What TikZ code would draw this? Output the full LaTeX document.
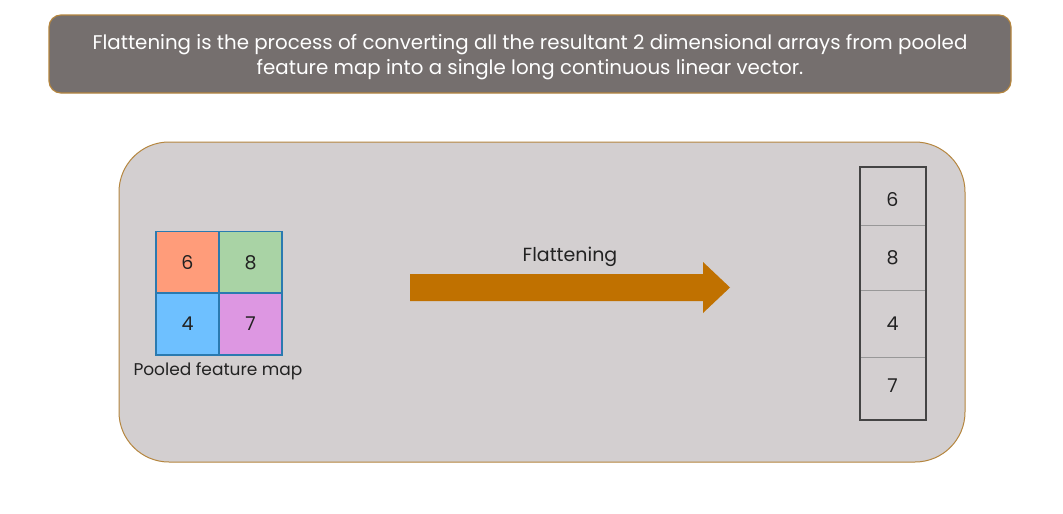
\documentclass[tikz,border=0pt]{standalone}
\usepackage{fontspec}
\setmainfont{Poppins}
\usetikzlibrary{positioning}
\definecolor{boxgray}{HTML}{756F6E}
\definecolor{panel}{HTML}{D3CFD0}
\definecolor{goldline}{HTML}{B5863F}
\definecolor{arrowc}{HTML}{C07100}
\definecolor{cOrange}{HTML}{FF9C7A}
\definecolor{cGreen}{HTML}{A9D3A5}
\definecolor{cBlue}{HTML}{6EC0FF}
\definecolor{cPink}{HTML}{DD97E2}
\definecolor{gridline}{HTML}{2A7AB0}
\definecolor{vecline}{HTML}{444444}
\definecolor{txt}{HTML}{222222}
\tikzset{
  cell/.style={draw=gridline, line width=1.6pt, minimum width=63pt, minimum height=62pt, inner sep=0pt, font=\fontsize{19}{20}\selectfont, text=txt},
  vcell/.style={draw=vecline!55, line width=1pt, minimum width=65pt, inner sep=0pt, font=\fontsize{19}{20}\selectfont, text=txt},
  lbl/.style={font=\fontsize{17}{20}\selectfont, text=txt}
}
\begin{document}
\begin{tikzpicture}[x=1pt,y=-1pt]
\useasboundingbox (0,0) rectangle (1063,514);
\fill[white] (0,0) rectangle (1063,514);
% header
\node[draw=goldline, line width=1.2pt, fill=boxgray, rounded corners=12pt,
      minimum width=962pt, minimum height=78pt, text=white, align=center,
      font=\fontsize{19.8}{25.5}\selectfont] (header) at (530,54) {};
\node[text=white, align=center, font=\fontsize{19.8}{25.5}\selectfont] (htext) at (530,57)
  {Flattening is the process of converting all the resultant 2 dimensional arrays from pooled\\feature map into a single long continuous linear vector.};
% panel
\node[draw=goldline, line width=1pt, fill=panel, rounded corners=50pt,
      minimum width=846pt, minimum height=320pt] (panel) at (542,302) {};
% grid
\node[cell, fill=cOrange] (g6) at (187.5,262.5) {6};
\node[cell, fill=cGreen]  (g8) at (250.5,262.5) {8};
\node[cell, fill=cBlue]   (g4) at (187.5,324) {4};
\node[cell, fill=cPink]   (g7) at (250.5,324) {7};
\node[lbl, anchor=north] (glabel) at (218,359) {Pooled feature map};
% vector
\node[vcell, minimum height=58pt] (v6) at (892.5,196) {\raisebox{-4pt}[\height][\depth]{6}};
\node[vcell, minimum height=65pt] (v8) at (892.5,257.5) {8};
\node[vcell, minimum height=67pt] (v4) at (892.5,323.5) {4};
\node[vcell, minimum height=62pt] (v7) at (892.5,388) {\raisebox{2pt}[\height][\depth]{7}};
\draw[vecline, line width=2pt] (v6.north west) rectangle (v7.south east);
% arrow
\coordinate (as) at (410,287.5);
\coordinate (ae) at (730,287.5);
\fill[arrowc] (410,274) -- (703,274) -- (703,262) -- (ae) -- (703,313) -- (703,301) -- (410,301) -- cycle;
\node[lbl, font=\fontsize{19}{20}\selectfont] (alabel) at (570,257) {Flattening};
\end{tikzpicture}
\end{document}
